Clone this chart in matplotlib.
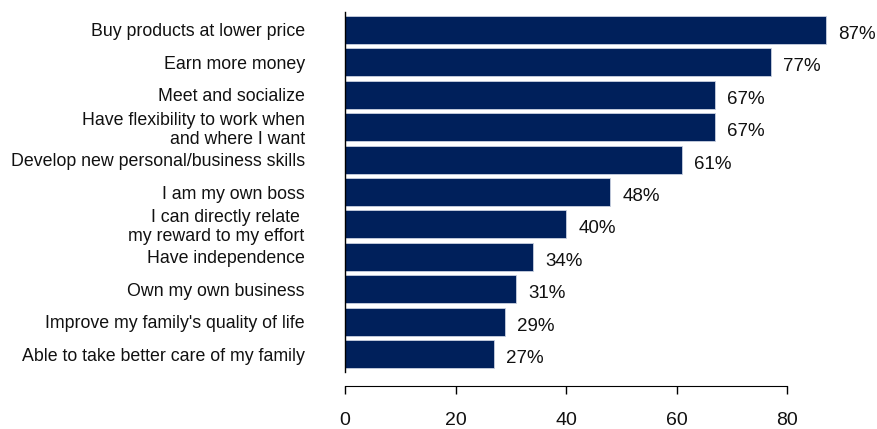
import matplotlib
matplotlib.use("Agg")
import matplotlib.pyplot as plt

plt.rcParams['font.family'] = ['Liberation Sans', 'DejaVu Sans']

# Reasons for joining, share of respondents (%)
reasons = ["Buy products at lower price",
           "Earn more money",
           "Meet and socialize",
           "Have flexibility to work when\nand where I want",
           "Develop new personal/business skills",
           "I am my own boss",
           "I can directly relate \nmy reward to my effort",
           "Have independence",
           "Own my own business",
           "Improve my family's quality of life",
           "Able to take better care of my family"]
shares = [87, 77, 67, 67, 61, 48, 40, 34, 31, 29, 27]
xticks = [0, 20, 40, 60, 80]

fig = plt.figure(figsize=(8.78, 4.29), dpi=100)
ax = fig.add_axes([345 / 878, 1 - 372 / 429, 525 / 878, 360 / 429])

# spines first: moving a spine rebuilds the ticks
ax.spines['top'].set_visible(False)
ax.spines['right'].set_visible(False)
ax.spines['bottom'].set_position(('outward', 10))
ax.spines['left'].set_linewidth(1)

pos = range(len(reasons))
ax.barh(pos, shares, height=0.86, color='#00205B', edgecolor='#c8d0e0', linewidth=0.6)
for y, v in zip(pos, shares):
    ax.text(v + 2.2, y + 0.14, f"{v}%", va='center', ha='left', fontsize=13.5, color='#111111')

ax.set_ylim(10.55, -0.55)
ax.set_xlim(0, 95)
ax.set_yticks(list(pos))
ax.set_yticklabels(reasons, fontsize=12.8, color='#111111', linespacing=1.15)
for lbl in ax.get_yticklabels():
    lbl.set_multialignment('right')
ax.tick_params(axis='y', length=0, pad=29)

ax.set_xticks(xticks)
ax.set_xticklabels([str(t) for t in xticks])
ax.tick_params(axis='x', length=6, width=1, pad=13, labelsize=14, labelcolor='#111111')
ax.spines['bottom'].set_bounds(0, 80)

fig.savefig("out.png", dpi=100)
